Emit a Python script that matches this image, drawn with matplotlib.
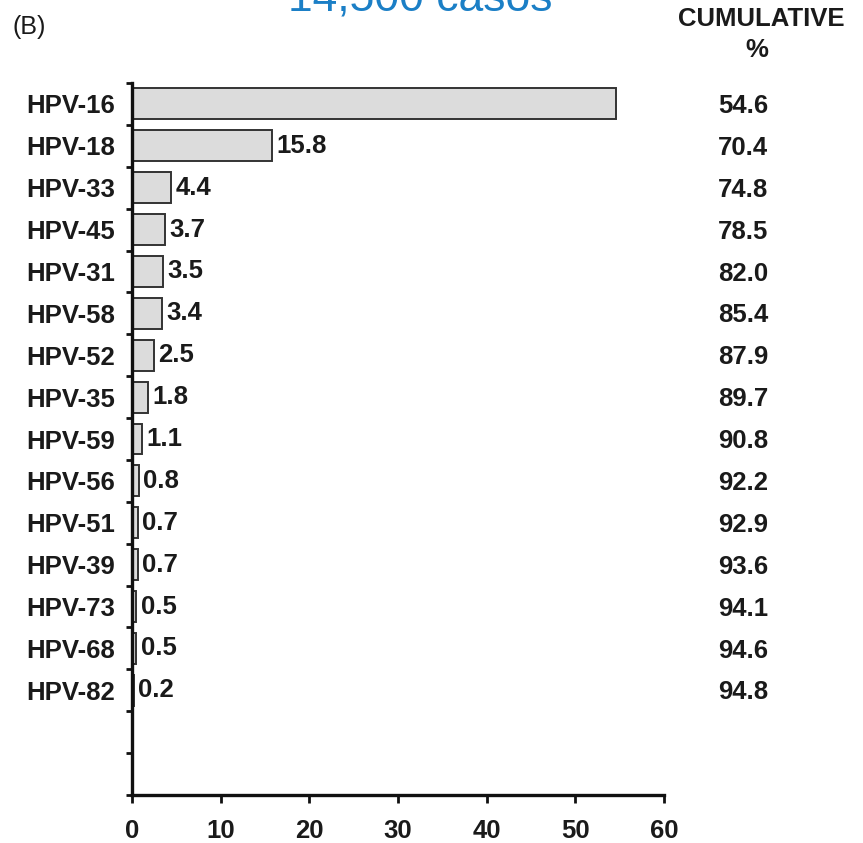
import matplotlib
matplotlib.use("Agg")
import matplotlib.pyplot as plt
import matplotlib.transforms as mtransforms
import numpy as np

# Data
hpv_types = ["HPV-16", "HPV-18", "HPV-33", "HPV-45", "HPV-31", "HPV-58",
             "HPV-52", "HPV-35", "HPV-59", "HPV-56", "HPV-51", "HPV-39",
             "HPV-73", "HPV-68", "HPV-82"]
prevalence = [54.6, 15.8, 4.4, 3.7, 3.5, 3.4, 2.5, 1.8, 1.1, 0.8, 0.7, 0.7,
              0.5, 0.5, 0.2]
cumulative = [54.6, 70.4, 74.8, 78.5, 82.0, 85.4, 87.9, 89.7, 90.8, 92.2,
              92.9, 93.6, 94.1, 94.6, 94.8]
n_slots = 17  # two empty slots under the last bar
x_ticks = [0, 10, 20, 30, 40, 50, 60]

plt.rcParams["font.family"] = ["Liberation Sans", "DejaVu Sans"]
font_size = 18.5
bar_face = "#dcdcdc"
bar_edge = "#333333"
title_blue = "#1b7fc6"

W, H = 863, 843
fig = plt.figure(figsize=(W / 100, H / 100), dpi=100)
ax = fig.add_axes([132 / W, 48 / H, (664 - 132) / W, (795 - 83) / H])

ypos = np.arange(len(hpv_types))
ax.barh(ypos, prevalence, height=0.74, color=bar_face, edgecolor=bar_edge,
        linewidth=1.4)

# the first bar has no value label in the reference
for y, v in zip(ypos[1:], prevalence[1:]):
    ax.annotate(f"{v:.1f}", xy=(v, y), xytext=(3, 0),
                textcoords="offset points", va="center", ha="left",
                fontsize=font_size, fontweight="bold", color="#1a1a1a")

ax.set_xlim(0, 60)
ax.set_ylim(n_slots - 0.5, -0.5)

# major ticks on slot boundaries, labels on minor ticks at the centres
ax.set_yticks(np.arange(n_slots + 1) - 0.5)
ax.set_yticklabels([])
ax.set_yticks(ypos, minor=True)
ax.set_yticklabels(hpv_types, minor=True)
ax.tick_params(axis="y", which="major", direction="out", length=4, width=2,
               color="#111111")
ax.tick_params(axis="y", which="minor", length=0, pad=12,
               labelsize=font_size, labelcolor="#1a1a1a")
for lab in ax.get_yticklabels(minor=True):
    lab.set_fontweight("bold")

ax.set_xticks(x_ticks)
ax.set_xticklabels([str(t) for t in x_ticks])
ax.tick_params(axis="x", direction="out", length=6, width=2, pad=11,
               labelsize=font_size, color="#111111", labelcolor="#1a1a1a")
for lab in ax.get_xticklabels():
    lab.set_fontweight("bold")

for side in ("top", "right"):
    ax.spines[side].set_visible(False)
for side in ("left", "bottom"):
    ax.spines[side].set_linewidth(2.4)
    ax.spines[side].set_color("#111111")

# cumulative column on the right
trans = mtransforms.blended_transform_factory(fig.transFigure, ax.transData)
for y, c in zip(ypos, cumulative):
    ax.text(743 / W, y + 0.05, f"{c:.1f}", transform=trans, ha="center",
            va="center", fontsize=font_size, fontweight="bold",
            color="#1a1a1a", clip_on=False)

fig.text(761 / W, 1 - 19 / H, "CUMULATIVE", ha="center", va="center",
         fontsize=font_size, fontweight="bold", color="#1a1a1a")
fig.text(757 / W, 1 - 50 / H, "%", ha="center", va="center",
         fontsize=font_size, fontweight="bold", color="#1a1a1a")
fig.text(12 / W, 1 - 27 / H, "(B)", ha="left", va="center", fontsize=18,
         color="#1a1a1a")
fig.text(420 / W, 1 - 10 / H, "14,500 casos", ha="center", va="baseline",
         fontsize=32, color=title_blue)

fig.savefig("out.png", dpi=100)
